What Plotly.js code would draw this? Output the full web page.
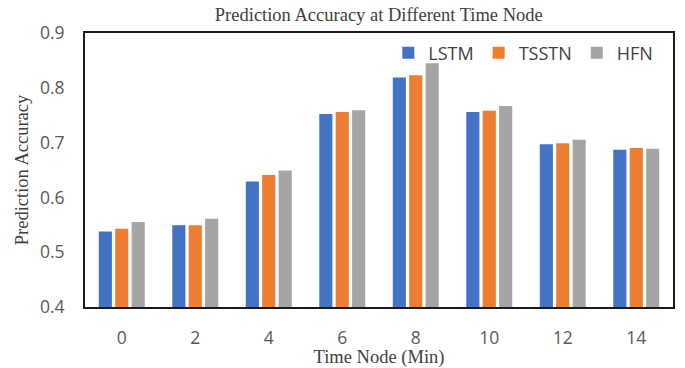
<!DOCTYPE html>
<html>
<head>
<meta charset="utf-8">
<script src="https://cdn.plot.ly/plotly-3.0.1.min.js"></script>
<style>html,body{margin:0;padding:0;background:#fff;}#chart{width:685px;height:368px;}</style>
</head>
<body>
<div id="chart"></div>
<script>
const categories = ["0", "2", "4", "6", "8", "10", "12", "14"];
const lstm  = [0.538, 0.549, 0.629, 0.752, 0.819, 0.756, 0.697, 0.687];
const tsstn = [0.543, 0.549, 0.641, 0.756, 0.823, 0.758, 0.699, 0.690];
const hfn   = [0.555, 0.561, 0.649, 0.759, 0.845, 0.767, 0.705, 0.689];
const seriesNames = ["LSTM", "TSSTN", "HFN"];
const seriesColors = ["#4472C4", "#ED7D31", "#A5A5A5"];
const yTicks = [0.4, 0.5, 0.6, 0.7, 0.8, 0.9];

const values = [lstm, tsstn, hfn];
const traces = values.map((v, i) => ({
  type: "bar",
  x: categories,
  y: v,
  name: seriesNames[i],
  marker: {color: seriesColors[i], line: {width: 0}},
  hoverinfo: "none"
}));

const tickFont = {family: "Open Sans, Noto Sans, sans-serif", size: 17.5, color: "#595959"};
const serif = {family: "Liberation Serif, Times New Roman, serif", size: 18.5, color: "#404040"};

const layout = {
  width: 685, height: 368,
  margin: {l: 85, r: 12, t: 33, b: 61, pad: 0},
  paper_bgcolor: "#fff", plot_bgcolor: "#fff",
  barmode: "group",
  bargap: 0.33,
  bargroupgap: 0.2,
  showlegend: true,
  title: {text: "Prediction Accuracy at Different Time Node", font: serif, x: 0.553, xanchor: "center", y: 0.96, yanchor: "middle"},
  xaxis: {
    type: "category",
    showline: true, linecolor: "#1a1a1a", linewidth: 2, mirror: true,
    showgrid: false, zeroline: false,
    ticks: "", tickfont: tickFont, ticklabelstandoff: 14,
    title: {text: "Time Node (Min)", font: serif, standoff: 0}
  },
  yaxis: {
    range: [0.4, 0.9],
    tickvals: yTicks, ticktext: yTicks.map(t => t.toFixed(1)),
    showline: true, linecolor: "#1a1a1a", linewidth: 2, mirror: true,
    showgrid: false, zeroline: false,
    ticks: "", tickfont: tickFont, ticklabelstandoff: 15,
    title: {text: "Prediction Accuracy", font: serif, standoff: 6}
  },
  legend: {
    orientation: "h", x: 0.975, xanchor: "right", y: 0.927, yanchor: "middle",
    font: {family: "Open Sans, Noto Sans, sans-serif", size: 18, color: "#404040"},
    bgcolor: "rgba(0,0,0,0)", itemwidth: 30, traceorder: "normal"
  }
};

Plotly.newPlot("chart", traces, layout, {staticPlot: true, displayModeBar: false});
</script>
</body>
</html>
